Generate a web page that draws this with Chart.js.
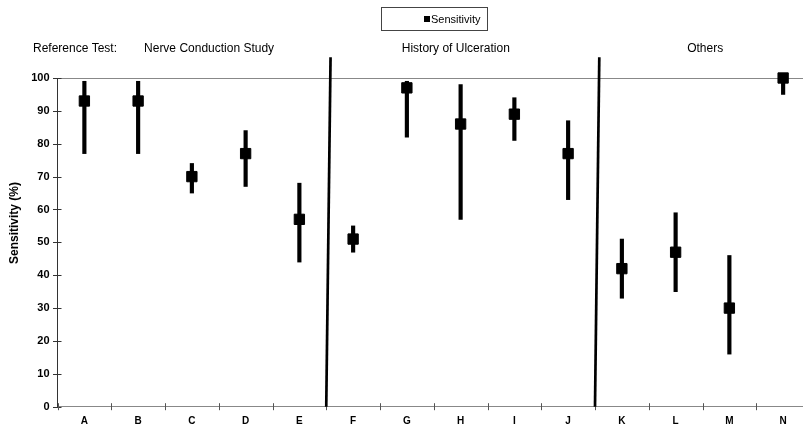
<!DOCTYPE html>
<html><head><meta charset="utf-8">
<script src="https://cdn.jsdelivr.net/npm/chart.js@4.4.1/dist/chart.umd.min.js"></script>
<style>html,body{margin:0;padding:0;background:#fff;overflow:hidden;width:803px;height:427px}</style>
</head><body>
<canvas id="c" width="810" height="427"></canvas>
<script>
const categories = ['A','B','C','D','E','F','G','H','I','J','K','L','M','N'];
const sensitivity = [93, 93, 70, 77, 57, 51, 97, 86, 89, 77, 42, 47, 30, 100];
const ciLower     = [77, 77, 65, 67, 44, 47, 82, 57, 81, 63, 33, 35, 16, 95];
const ciUpper     = [99, 99, 74, 84, 68, 55, 99, 98, 94, 87, 51, 59, 46, 100];
const yTicks = [0, 10, 20, 30, 40, 50, 60, 70, 80, 90, 100];
const groupNames = ['Nerve Conduction Study', 'History of Ulceration', 'Others'];
const groupBoundaries = [4.5, 9.5];
const legendLabel = 'Sensitivity';
const refLabel = 'Reference Test:';
const yTitle = 'Sensitivity (%)';

const FONT = "'Liberation Sans', Arial, sans-serif";

const decor = {
  id: 'decor',
  afterDraw(chart) {
    const {ctx, scales: {x, y}, chartArea: a} = chart;
    ctx.save();
    // crossing tick marks on y axis
    ctx.lineWidth = 1;
    ctx.strokeStyle = '#333';
    yTicks.forEach(v => {
      const py = Math.round(y.getPixelForValue(v)) + 0.5;
      ctx.beginPath(); ctx.moveTo(a.left - 4.5, py); ctx.lineTo(a.left + 4, py); ctx.stroke();
    });
    // crossing tick marks on x axis (category boundaries)
    ctx.strokeStyle = '#555';
    for (let i = 0; i <= categories.length; i++) {
      const px = Math.round(x.getPixelForValue(i - 0.5)) + 0.5;
      ctx.beginPath(); ctx.moveTo(px, a.bottom - 3.5); ctx.lineTo(px, a.bottom + 3.5); ctx.stroke();
    }
    // group separators
    ctx.strokeStyle = '#000';
    ctx.lineWidth = 2.7;
    groupBoundaries.forEach(b => {
      ctx.beginPath();
      ctx.moveTo(x.getPixelForValue(b), y.getPixelForValue(0));
      ctx.lineTo(x.getPixelForValue(b + 0.08), y.getPixelForValue(106.3));
      ctx.stroke();
    });
    // group labels
    ctx.fillStyle = '#000';
    ctx.font = '12px ' + FONT;
    ctx.textBaseline = 'middle';
    ctx.textAlign = 'left';
    ctx.fillText(refLabel, 33, 48.5);
    ctx.textAlign = 'center';
    const centers = [2.32, 6.91, 11.55];
    groupNames.forEach((g, i) => ctx.fillText(g, x.getPixelForValue(centers[i]), 48.5));
    // y title
    ctx.save();
    ctx.translate(15, 223);
    ctx.rotate(-Math.PI / 2);
    ctx.font = 'bold 12px ' + FONT;
    ctx.textAlign = 'center';
    ctx.textBaseline = 'middle';
    ctx.fillText(yTitle, 0, 0);
    ctx.restore();
    // legend
    ctx.lineWidth = 1;
    ctx.strokeStyle = '#444';
    ctx.strokeRect(381.5, 7.5, 106, 23);
    ctx.fillStyle = '#000';
    ctx.fillRect(424, 16, 6, 6);
    ctx.font = '11px ' + FONT;
    ctx.textAlign = 'left';
    ctx.textBaseline = 'middle';
    ctx.fillText(legendLabel, 431, 19.5);
    ctx.restore();
  }
};

new Chart(document.getElementById('c'), {
  type: 'bar',
  data: {
    labels: categories,
    datasets: [
      {
        type: 'line',
        label: legendLabel,
        data: sensitivity,
        showLine: false,
        pointStyle: 'rect',
        pointRadius: 7.3,
        pointBorderWidth: 1,
        pointBackgroundColor: '#000',
        pointBorderColor: '#000',
        clip: false,
        order: 0
      },
      {
        type: 'bar',
        label: 'CI',
        data: ciLower.map((l, i) => [l, ciUpper[i]]),
        backgroundColor: '#000',
        borderWidth: 0,
        barThickness: 3.5,
        clip: false,
        order: 1
      }
    ]
  },
  options: {
    responsive: false,
    animation: false,
    devicePixelRatio: 1,
    layout: {autoPadding: false, padding: {top: 78, left: 0, right: 0, bottom: 0}},
    plugins: {legend: {display: false}, tooltip: {enabled: false}},
    scales: {
      x: {
        offset: true,
        grid: {display: false, drawTicks: false},
        border: {color: '#888', width: 1},
        ticks: {color: '#000', font: {family: FONT, size: 10, weight: 'bold'}, padding: 9},
        afterFit: s => { s.height = 20.3; s.paddingLeft = 0; s.paddingRight = 0; }
      },
      y: {
        min: 0, max: 100,
        grid: {
          drawTicks: false,
          color: c => (c.tick && c.tick.value === 100) ? '#888' : 'rgba(0,0,0,0)'
        },
        border: {color: '#333', width: 1},
        ticks: {stepSize: 10, color: '#000', font: {family: FONT, size: 11, weight: 'bold'}, padding: 8},
        afterFit: s => { s.width = 57.5; }
      }
    }
  },
  plugins: [decor]
});
</script>
</body></html>
